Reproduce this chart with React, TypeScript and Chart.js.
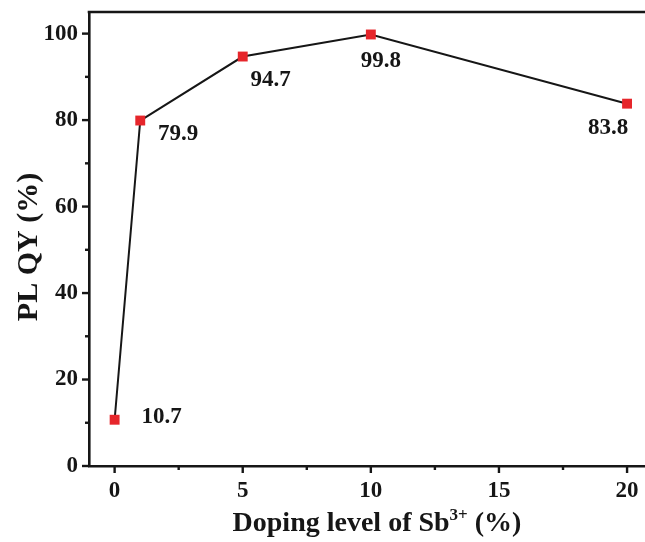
import React, { useEffect, useRef } from "react";
import { Chart, registerables } from "chart.js";

Chart.register(...registerables);

const dopingLevels = [0, 1, 5, 10, 20];
const plqyValues = [10.7, 79.9, 94.7, 99.8, 83.8];
const pointLabels = ["10.7", "79.9", "94.7", "99.8", "83.8"];
const xTicks = [0, 5, 10, 15, 20];
const xMinorTicks = [2.5, 7.5, 12.5, 17.5];
const yTicks = [0, 20, 40, 60, 80, 100];
const yMinorTicks = [10, 30, 50, 70, 90];
const xTitleMain = "Doping level of Sb";
const xTitleSup = "3+";
const xTitleEnd = " (%)";
const yTitle = "PL QY (%)";

// label placement (pixel offsets from each point), styling only
const labelOffsets: [number, number][] = [
  [47, -3],
  [38, 14],
  [28, 24],
  [10, 27],
  [-19, 24],
];

const INK = "#161616";
const FONT = "'Liberation Serif', 'Times New Roman', serif";

const decorPlugin = {
  id: "decor",
  afterDraw(chart: any) {
    const ctx = chart.ctx as CanvasRenderingContext2D;
    const area = chart.chartArea;
    const xs = chart.scales.x;
    const ys = chart.scales.y;
    ctx.save();
    ctx.strokeStyle = INK;
    ctx.lineWidth = 2.6;
    // top border
    ctx.beginPath();
    ctx.moveTo(area.left - 1.3, area.top);
    ctx.lineTo(area.right, area.top);
    ctx.stroke();
    // ticks
    ctx.lineWidth = 2.4;
    const tick = (x1: number, y1: number, x2: number, y2: number) => {
      ctx.beginPath();
      ctx.moveTo(x1, y1);
      ctx.lineTo(x2, y2);
      ctx.stroke();
    };
    xTicks.forEach((v) => {
      const px = xs.getPixelForValue(v);
      tick(px, area.bottom, px, area.bottom + 7);
    });
    xMinorTicks.forEach((v) => {
      const px = xs.getPixelForValue(v);
      tick(px, area.bottom, px, area.bottom + 4);
    });
    yTicks.forEach((v) => {
      const py = ys.getPixelForValue(v);
      tick(area.left, py, area.left - 7, py);
    });
    yMinorTicks.forEach((v) => {
      const py = ys.getPixelForValue(v);
      tick(area.left, py, area.left - 4, py);
    });

    // data labels
    ctx.fillStyle = INK;
    ctx.font = `bold 23px ${FONT}`;
    ctx.textAlign = "center";
    ctx.textBaseline = "middle";
    const meta = chart.getDatasetMeta(0);
    meta.data.forEach((pt: any, i: number) => {
      const [dx, dy] = labelOffsets[i];
      ctx.fillText(pointLabels[i], pt.x + dx, pt.y + dy);
    });

    // x title with superscript
    ctx.textBaseline = "alphabetic";
    ctx.textAlign = "left";
    const mainFont = `bold 28px ${FONT}`;
    const supFont = `bold 17px ${FONT}`;
    ctx.font = mainFont;
    const w1 = ctx.measureText(xTitleMain).width;
    const w3 = ctx.measureText(xTitleEnd).width;
    ctx.font = supFont;
    const w2 = ctx.measureText(xTitleSup).width;
    const total = w1 + w2 + w3;
    let x0 = 377 - total / 2;
    const base = 531;
    ctx.font = mainFont;
    ctx.fillText(xTitleMain, x0, base);
    x0 += w1;
    ctx.font = supFont;
    ctx.fillText(xTitleSup, x0, base - 11);
    x0 += w2;
    ctx.font = mainFont;
    ctx.fillText(xTitleEnd, x0, base);

    // y title
    ctx.font = `bold 30px ${FONT}`;
    ctx.translate(37, 247);
    ctx.rotate(-Math.PI / 2);
    ctx.textAlign = "center";
    ctx.fillText(yTitle, 0, 0);
    ctx.restore();
  },
};

const zeroPad = (s: any) => {
  s.paddingTop = 0;
  s.paddingBottom = 0;
  s.paddingLeft = 0;
  s.paddingRight = 0;
};

export default function App() {
  const ref = useRef<HTMLCanvasElement | null>(null);
  useEffect(() => {
    if (!ref.current) return;
    const chart = new Chart(ref.current, {
      type: "line",
      data: {
        datasets: [
          {
            data: dopingLevels.map((x, i) => ({ x, y: plqyValues[i] })),
            borderColor: INK,
            borderWidth: 2,
            pointStyle: "rect",
            pointRadius: 7,
            pointBorderWidth: 0,
            pointBackgroundColor: "#e6262b",
            pointBorderColor: "#e6262b",
            tension: 0,
            clip: false as any,
          },
        ],
      },
      options: {
        animation: false,
        responsive: false,
        events: [],
        layout: { autoPadding: false, padding: { left: 0, right: 0, top: 12, bottom: 0 } },
        plugins: { legend: { display: false }, tooltip: { enabled: false } },
        scales: {
          x: {
            type: "linear",
            min: -1,
            max: 20.7,
            afterBuildTicks: (s: any) => {
              s.ticks = xTicks.map((v) => ({ value: v }));
            },
            afterFit: (s: any) => {
              s.height = 76;
              zeroPad(s);
            },
            grid: { display: false, drawTicks: false },
            border: { display: true, width: 2.6, color: INK },
            ticks: {
              padding: 11,
              color: INK,
              font: { family: FONT, size: 23, weight: "bold" },
              callback: (v: any) => String(v),
              maxRotation: 0,
              autoSkip: false,
            },
          },
          y: {
            type: "linear",
            min: 0,
            max: 105,
            afterBuildTicks: (s: any) => {
              s.ticks = yTicks.map((v) => ({ value: v }));
            },
            afterFit: (s: any) => {
              s.width = 89;
              zeroPad(s);
            },
            grid: { display: false, drawTicks: false },
            border: { display: true, width: 2.6, color: INK },
            ticks: {
              padding: 11,
              color: INK,
              font: { family: FONT, size: 23, weight: "bold" },
              callback: (v: any) => String(v),
              autoSkip: false,
            },
          },
        },
      },
      plugins: [decorPlugin],
    });
    return () => chart.destroy();
  }, []);
  return (
    <div style={{ position: "absolute", left: 0, top: 0, width: 645, height: 542 }}>
      <canvas ref={ref} width={645} height={542} />
    </div>
  );
}
